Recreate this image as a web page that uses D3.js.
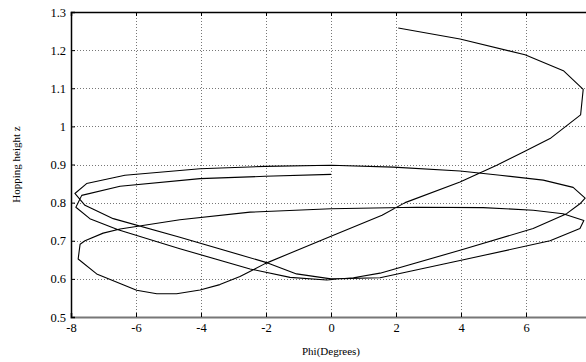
<!DOCTYPE html>
<html>
<head>
<meta charset="utf-8">
<script src="https://cdn.jsdelivr.net/npm/d3@7"></script>
<style>
  body { margin: 0; background: #fff; }
  svg text { font-family: "Liberation Serif", "Times New Roman", serif; fill: #000; }
</style>
</head>
<body>
<svg id="chart" width="586" height="362"></svg>
<script>
// trajectory in drawing order
var phi = [2.07, 3.97, 5.97, 7.15, 7.76, 7.68, 6.74, 5.92, 5.10, 3.97, 2.28, 1.57, 0, -2.03,
  -2.8, -3.42, -4.03, -4.75, -5.36, -5.98, -7.21, -7.78, -7.72, -7.57, -7.01, -6.49, -4.65,
  -2.49, 0, 2.64, 4.68, 6.22, 7.14, 7.78, 7.66, 6.74, 3.97, 1.51, 0, -1.06, -2.03, -4.65,
  -6.70, -7.57, -7.88, -7.52, -6.34, -4.03, -2.03, 0, 1.92, 3.97, 5.2, 6.53, 7.45, 7.82,
  7.66, 7.25, 6.22, 3.97, 1.51, 0.69, -0.13, -1.26, -2.49, -4.65, -6.55, -7.42, -7.85,
  -7.67, -6.49, -4.03, -2.03, 0];
var height = [1.258, 1.229, 1.188, 1.146, 1.097, 1.03, 0.968, 0.933, 0.898, 0.854, 0.80, 0.767,
  0.712, 0.64, 0.606, 0.585, 0.571, 0.561, 0.561, 0.57, 0.613, 0.652, 0.691, 0.700, 0.72,
  0.731, 0.755, 0.775, 0.784, 0.788, 0.787, 0.780, 0.771, 0.753, 0.732, 0.70, 0.648, 0.603,
  0.600, 0.613, 0.644, 0.709, 0.758, 0.793, 0.824, 0.85, 0.872, 0.889, 0.895, 0.898, 0.893,
  0.883, 0.872, 0.859, 0.84, 0.812, 0.797, 0.771, 0.732, 0.675, 0.615, 0.603, 0.597, 0.604,
  0.626, 0.679, 0.729, 0.758, 0.788, 0.819, 0.843, 0.863, 0.869, 0.874];
var xTicks = [-8, -6, -4, -2, 0, 2, 4, 6, 8];
var yTicks = [0.5, 0.6, 0.7, 0.8, 0.9, 1, 1.1, 1.2, 1.3];

var mLeft = 71, mTop = 12, mRight = 591, mBottom = 317;

var svg = d3.select("#chart");

var x = d3.scaleLinear().domain([-8, 8]).range([mLeft, mRight]);
var y = d3.scaleLinear().domain([0.5, 1.3]).range([mBottom, mTop]);

// dotted grid
svg.append("g")
  .selectAll("line.vgrid")
  .data(xTicks.slice(1, -1))
  .enter().append("line")
  .attr("class", "vgrid")
  .attr("x1", function(d){ return Math.round(x(d)) + 0.5; })
  .attr("x2", function(d){ return Math.round(x(d)) + 0.5; })
  .attr("y1", mTop).attr("y2", mBottom)
  .attr("stroke", "#777").attr("stroke-width", 1)
  .attr("stroke-dasharray", "1,2");

svg.append("g")
  .selectAll("line.hgrid")
  .data(yTicks.slice(1, -1))
  .enter().append("line")
  .attr("class", "hgrid")
  .attr("x1", mLeft).attr("x2", mRight)
  .attr("y1", function(d){ return Math.round(y(d)) + 0.5; })
  .attr("y2", function(d){ return Math.round(y(d)) + 0.5; })
  .attr("stroke", "#777").attr("stroke-width", 1)
  .attr("stroke-dasharray", "1,2");

// the curve
var line = d3.line()
  .x(function(d){ return x(d[0]); })
  .y(function(d){ return y(d[1]); });

svg.append("path")
  .datum(phi.map(function(p, i){ return [p, height[i]]; }))
  .attr("d", line)
  .attr("fill", "none")
  .attr("stroke", "#000")
  .attr("stroke-width", 1.1)
  .attr("stroke-linejoin", "round");

// axes: ticks drawn inward
var xAxis = svg.append("g")
  .attr("transform", "translate(0," + mBottom + ")")
  .call(d3.axisBottom(x).tickValues(xTicks).tickSize(-4).tickPadding(6)
          .tickFormat(function(d){ return d === 8 ? "" : String(d); }));
xAxis.select(".domain").attr("stroke", "#777").attr("stroke-width", 2);

var xTop = svg.append("g")
  .attr("transform", "translate(0," + mTop + ")")
  .call(d3.axisTop(x).tickValues(xTicks).tickSize(-4).tickFormat(""));
xTop.select(".domain").attr("stroke", "#000").attr("stroke-width", 1.5);

var yAxis = svg.append("g")
  .attr("transform", "translate(" + mLeft + ",0)")
  .call(d3.axisLeft(y).tickValues(yTicks).tickSize(-4).tickPadding(5)
          .tickFormat(function(d){ return String(d); }));
yAxis.select(".domain").attr("stroke", "#000").attr("stroke-width", 1.5);

svg.selectAll(".tick text")
  .style("font-family", '"Liberation Serif", serif')
  .style("font-size", "12.5px")
  .attr("fill", "#000");

svg.selectAll(".tick line").attr("stroke", "#000");

svg.append("text")
  .attr("x", (mLeft + mRight) / 2)
  .attr("y", 355)
  .attr("text-anchor", "middle")
  .style("font-size", "11px")
  .text("Phi(Degrees)");

svg.append("text")
  .attr("transform", "translate(20," + ((mTop + mBottom) / 2) + ") rotate(-90)")
  .attr("text-anchor", "middle")
  .style("font-size", "11px")
  .text("Hopping height z");
</script>
</body>
</html>
